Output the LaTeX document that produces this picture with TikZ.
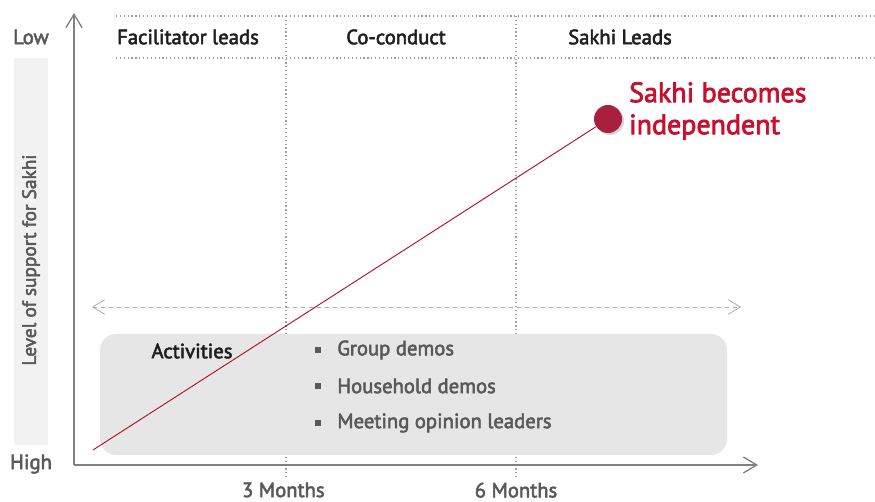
\documentclass[tikz,border=0pt]{standalone}
\usepackage{fontspec}
\setmainfont{PT Sans}[FakeBold=2.6, BoldFont=PT Sans]
\usepackage{tikz}
\usetikzlibrary{positioning, arrows.meta, shadows}
\definecolor{axisgrey}{HTML}{808080}
\definecolor{textgrey}{HTML}{595959}
\definecolor{bargrey}{HTML}{F2F2F2}
\definecolor{boxgrey}{HTML}{E6E6E6}
\definecolor{sakhired}{HTML}{C8102E}
\definecolor{dotred}{HTML}{A8203E}
\begin{document}
\begin{tikzpicture}[x=0.75pt,y=0.75pt,
    txt/.style={font=\fontsize{15.5}{18}\selectfont, text=textgrey, inner sep=0pt},
    hdr/.style={txt, text=black!88},
    axis/.style={draw=axisgrey, line width=1.6pt, -{Straight Barb[length=10pt,width=12pt,line width=1pt]}},
    guide/.style={draw=gray!75, dotted, line width=0.9pt},
    span/.style={draw=gray!65, dashed, line width=0.6pt, {Straight Barb[length=9pt,width=11pt,line width=0.6pt]}-{Straight Barb[length=9pt,width=11pt,line width=0.6pt]}},
    bullet/.style={fill=textgrey, minimum size=4.5pt, inner sep=0pt}]
  \useasboundingbox (0,0) rectangle (875,502);
  % level bar
  \fill[bargrey] (14,57) rectangle (48,444);
  \node[txt, rotate=90, font=\fontsize{14.5}{17}\selectfont] (lvl) at (31,242) {Level of support for Sakhi};
  \node[txt] (lbl_low) at (31,465) {Low};
  \node[txt] (lbl_high) at (31,38) {High};
  % phase grid
  \coordinate (g_tl) at (116,486);
  \coordinate (g_tr) at (875,486);
  \coordinate (g_bl) at (116,444);
  \coordinate (g_br) at (875,444);
  \coordinate (m_3t) at (286,486);
  \coordinate (m_3b) at (286,25);
  \coordinate (m_6t) at (516,486);
  \coordinate (m_6b) at (516,25);
  \draw[guide] (g_tl) -- (g_tr);
  \draw[guide] (g_bl) -- (g_br);
  \draw[guide] (m_3t) -- (m_3b);
  \draw[guide] (m_6t) -- (m_6b);
  \node[hdr] (ph_1) at (188,465) {Facilitator leads};
  \node[hdr] (ph_2) at (396,465) {Co-conduct};
  \node[hdr] (ph_3) at (620,465) {Sakhi Leads};
  \node[txt, below=4pt of m_3b, xshift=-2pt] (t_3) {3 Months};
  \node[txt, below=4pt of m_6b] (t_6) {6 Months};
  % activities
  \fill[boxgrey, rounded corners=12pt] (100,47) rectangle (727,168);
  \coordinate (sp_l) at (92,195);
  \coordinate (sp_r) at (741,195);
  \draw[span] (sp_l) -- (sp_r);
  \node[hdr] (act) at (192,151) {Activities};
  \node[txt, anchor=west] (it_1) at (337,152) {Group demos};
  \node[txt, anchor=west] (it_2) at (337,116) {Household demos};
  \node[txt, anchor=west] (it_3) at (337,79) {Meeting opinion leaders};
  \node[bullet, left=12pt of it_1] (b_1) {};
  \node[bullet, left=12pt of it_2] (b_2) {};
  \node[bullet, left=12pt of it_3] (b_3) {};
  % axes
  \coordinate (o) at (74,37);
  \coordinate (y_top) at (74,489);
  \coordinate (x_end) at (758,37);
  \draw[axis] (o) -- (y_top);
  \draw[axis] (o) -- (x_end);
  % progress line
  \coordinate (line_start) at (93,52);
  \node[circle, fill=dotred, minimum size=21pt, inner sep=0pt,
        drop shadow={opacity=0.35, shadow xshift=1.5pt, shadow yshift=-1.5pt}] (indep_dot) at (608,383) {};
  \draw[sakhired!90!black, line width=0.7pt] (line_start) -- (indep_dot);
  \node[anchor=west, align=left, text=sakhired, inner sep=0pt,
        font=\fontsize{21}{24}\selectfont, right=5pt of indep_dot, yshift=6pt] (indep) {Sakhi becomes\\independent};
\end{tikzpicture}
\end{document}
